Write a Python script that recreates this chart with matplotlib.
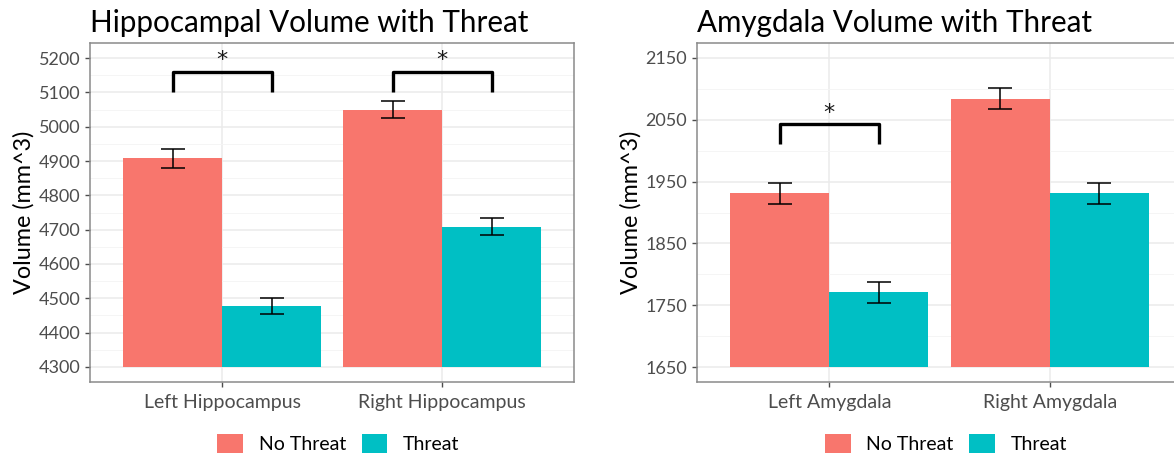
import matplotlib
matplotlib.use("Agg")
import matplotlib.pyplot as plt
import numpy as np
from matplotlib.patches import Patch

plt.rcParams['font.family'] = ['Lato', 'DejaVu Sans']

# group names and bar values (mean volume, standard error)
conditions = ['No Threat', 'Threat']
colors = ['#F8766D', '#00BFC4']

hippo_regions = ['Left Hippocampus', 'Right Hippocampus']
hippo_no_threat = [4908, 5050]
hippo_threat = [4478, 4709]
hippo_no_threat_se = [27, 26]
hippo_threat_se = [24, 24]
hippo_ticks = [4300, 4400, 4500, 4600, 4700, 4800, 4900, 5000, 5100, 5200]

amyg_regions = ['Left Amygdala', 'Right Amygdala']
amyg_no_threat = [1931, 2084]
amyg_threat = [1771, 1931]
amyg_no_threat_se = [17, 17]
amyg_threat_se = [17, 17]
amyg_ticks = [1650, 1750, 1850, 1950, 2050, 2150]

# significance brackets: (group index, top, leg bottom)
hippo_sig = [(0, 5160, 5100), (1, 5160, 5100)]
amyg_sig = [(0, 2043, 2011)]

fig = plt.figure(figsize=(11.74, 4.57), dpi=100)
ax1 = fig.add_axes([90 / 1174, 75 / 457, 484 / 1174, 339 / 457])
ax2 = fig.add_axes([697 / 1174, 75 / 457, 485 / 1174, 339 / 457])


def panel(ax, title, regions, nt, t, nt_se, t_se, ticks, ylim, sig):
    x = np.arange(1, len(regions) + 1)
    w = 0.45
    ax.bar(x - w / 2, np.array(nt) - ticks[0], w, bottom=ticks[0], color=colors[0], zorder=2)
    ax.bar(x + w / 2, np.array(t) - ticks[0], w, bottom=ticks[0], color=colors[1], zorder=2)
    ax.errorbar(x - w / 2, nt, yerr=nt_se, fmt='none', ecolor='black', elinewidth=1.1,
                capsize=8.5, capthick=1.1, zorder=3)
    ax.errorbar(x + w / 2, t, yerr=t_se, fmt='none', ecolor='black', elinewidth=1.1,
                capsize=8.5, capthick=1.1, zorder=3)
    span = ylim[1] - ylim[0]
    for i, top, low in sig:
        xc = x[i]
        ax.plot([xc - w / 2, xc - w / 2, xc + w / 2, xc + w / 2], [low, top, top, low],
                color='black', lw=2.4, solid_joinstyle='round', solid_capstyle='butt', zorder=3)
        ax.text(xc, top + span * 0.004, '*', ha='center', va='bottom',
                fontsize=16, color='#1a1a1a', family='DejaVu Sans')

    ax.set_xlim(0.4, 2.6)
    ax.set_ylim(*ylim)
    ax.set_xticks(x)
    ax.set_xticklabels(regions)
    ax.set_yticks(ticks)
    minor = [(a + b) / 2 for a, b in zip(ticks[:-1], ticks[1:])]
    ax.set_yticks(minor, minor=True)
    ax.set_xticks([], minor=True)
    ax.grid(which='major', color='#EBEBEB', lw=1.1, zorder=0)
    ax.grid(which='minor', axis='y', color='#F4F4F4', lw=0.6, zorder=0)
    ax.set_axisbelow(True)
    for s in ax.spines.values():
        s.set_color('#8a8a8a')
        s.set_linewidth(1.1)
    ax.tick_params(axis='both', which='major', colors='#4D4D4D', labelcolor='#4D4D4D',
                   length=3.5, width=1.0)
    ax.tick_params(axis='y', which='major', labelsize=13)
    ax.tick_params(axis='x', which='major', labelsize=14, pad=5)
    ax.tick_params(axis='y', which='minor', length=0)
    ax.set_ylabel('Volume (mm^3)', fontsize=16.8, color='black', labelpad=3)
    ax.set_title(title, fontsize=21.3, loc='left', pad=8, color='black')
    handles = [Patch(facecolor=c, edgecolor='none') for c in colors]
    ax.legend(handles, conditions, loc='center', bbox_to_anchor=(0.513, -0.182),
              ncol=2, frameon=False, fontsize=14, handlelength=1.33, handleheight=1.17,
              handletextpad=0.8, columnspacing=0.8)


panel(ax1, 'Hippocampal Volume with Threat', hippo_regions, hippo_no_threat, hippo_threat,
      hippo_no_threat_se, hippo_threat_se, hippo_ticks, (4256, 5244), hippo_sig)
panel(ax2, 'Amygdala Volume with Threat', amyg_regions, amyg_no_threat, amyg_threat,
      amyg_no_threat_se, amyg_threat_se, amyg_ticks, (1626, 2174), amyg_sig)

fig.savefig('out.png', dpi=100)
